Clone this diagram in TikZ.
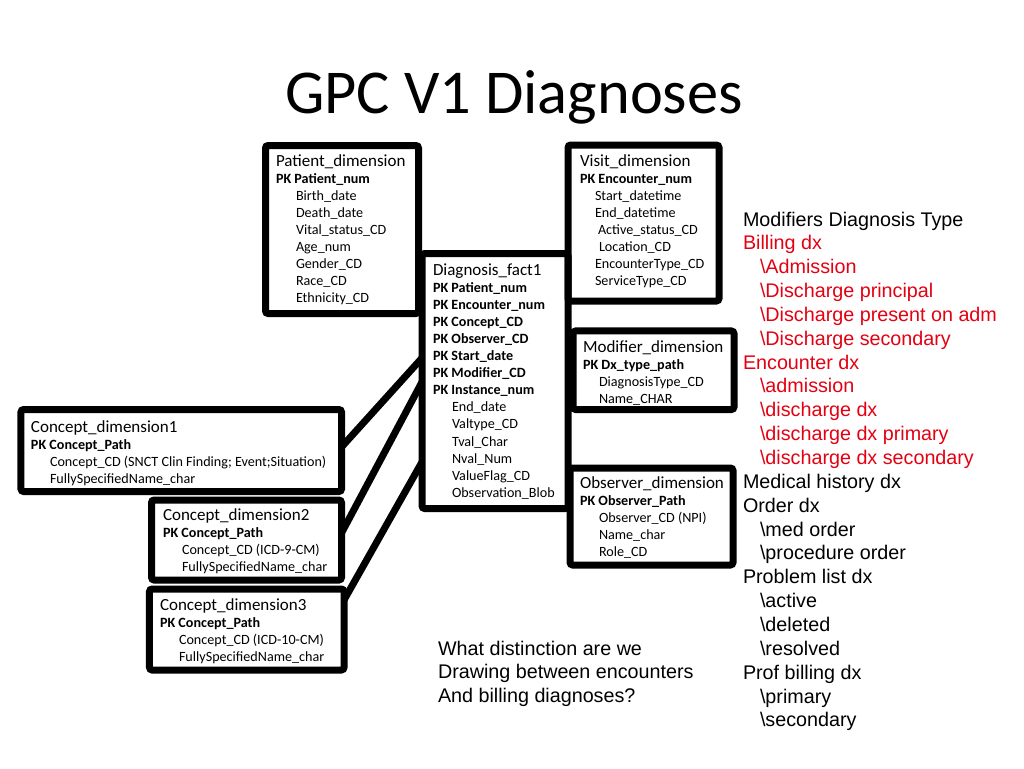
\documentclass[tikz,border=0pt]{standalone}
\usepackage{fontspec}
\setmainfont{Carlito}
\newfontfamily\arialf{Liberation Sans}
\definecolor{dxred}{RGB}{228,0,18}
\newcommand\ttlf{\fontsize{12.75}{15}\selectfont}
\newcommand\pkf{\fontsize{10.6}{12.5}\selectfont\bfseries}
\newcommand\fldf{\fontsize{10.6}{12.5}\selectfont}
\tikzset{
  box/.style={draw, line width=5.25pt, rounded corners=2pt, inner sep=0pt, outer sep=0pt},
  conn/.style={line width=5.25pt},
  rowtxt/.style={anchor=base west, inner sep=0pt, outer sep=0pt},
  listtxt/.style={anchor=base west, inner sep=0pt, outer sep=0pt, font=\arialf\fontsize{14.8}{17.8}\selectfont},
}
\newcommand\mkTable[5]{%
  \def\fieldind{#3}%
  \foreach \dx/\fnt/\txt [count=\idx from 0] in {#5}{%
    \node[rowtxt, font=\fnt, xshift={\dx*\fieldind*0.75pt}] (#1\idx) at ({#2},{#4+17.1*\idx}) {\txt};
  }%
}
\begin{document}
\begin{tikzpicture}[x=0.75pt, y=-0.75pt]
\useasboundingbox (0,0) rectangle (1024,768);
\fill[white] (0,0) rectangle (1024,768);

\node[anchor=base, inner sep=0pt, font=\fontsize{46.8}{56}\selectfont] (title) at (514,113) {GPC V1 Diagnoses};

% boxes
\node[box, minimum width=114.75pt, minimum height=126pt] (pat) at (342,229.5) {};
\node[box, minimum width=109.5pt, minimum height=191.25pt] (diag) at (495,381) {};
\node[box, minimum width=113.25pt, minimum height=117pt] (visit) at (643.5,223) {};
\node[box, minimum width=120.75pt, minimum height=58.9pt] (mod) at (653.5,370.25) {};
\node[box, minimum width=122.25pt, minimum height=72.75pt] (obs) at (651.5,516.5) {};
\node[box, minimum width=240.4pt, minimum height=61.5pt] (cA) at (181.25,450.5) {};
\node[box, minimum width=142.5pt, minimum height=60pt] (cB) at (246.5,540) {};
\node[box, minimum width=145.9pt, minimum height=60.75pt] (cC) at (246.75,629.5) {};

% connectors
\draw[conn] ([yshift=2.6pt]cA.east) -- ([yshift=17.25pt]diag.west);
\draw[conn] ([yshift=5.25pt]cB.east) -- ([yshift=-0.75pt]diag.west);
\draw[conn] ([yshift=-8.25pt]cC.north east) -- ([yshift=-60.75pt]diag.west);

% table texts
\mkTable{patT}{276}{20}{166}{0/\ttlf/Patient\_dimension, 0/\pkf/PK Patient\_num, 1/\fldf/Birth\_date, 1/\fldf/Death\_date, 1/\fldf/Vital\_status\_CD, 1/\fldf/Age\_num, 1/\fldf/Gender\_CD, 1/\fldf/Race\_CD, 1/\fldf/Ethnicity\_CD}
\mkTable{diagT}{433}{19}{275}{0/\ttlf/Diagnosis\_fact1, 0/\pkf/PK Patient\_num, 0/\pkf/PK Encounter\_num, 0/\pkf/PK Concept\_CD, 0/\pkf/PK Observer\_CD, 0/\pkf/PK Start\_date, 0/\pkf/PK Modifier\_CD, 0/\pkf/PK Instance\_num, 1/\fldf/End\_date, 1/\fldf/Valtype\_CD, 1/\fldf/Tval\_Char, 1/\fldf/Nval\_Num, 1/\fldf/ValueFlag\_CD, 1/\fldf/Observation\_Blob}
\mkTable{visitT}{580}{15}{166}{0/\ttlf/Visit\_dimension, 0/\pkf/PK Encounter\_num, 1/\fldf/Start\_datetime, 1/\fldf/End\_datetime, 1.2/\fldf/Active\_status\_CD, 1.27/\fldf/Location\_CD, 1/\fldf/EncounterType\_CD, 1/\fldf/ServiceType\_CD}
\mkTable{modT}{583}{16}{352}{0/\ttlf/Modifier\_dimension, 0/\pkf/PK Dx\_type\_path, 1/\fldf/DiagnosisType\_CD, 1/\fldf/Name\_CHAR}
\mkTable{obsT}{580}{19}{488}{0/\ttlf/Observer\_dimension, 0/\pkf/PK Observer\_Path, 1/\fldf/Observer\_CD (NPI), 1/\fldf/Name\_char, 1/\fldf/Role\_CD}
\mkTable{cAT}{31}{19}{432}{0/\ttlf/Concept\_dimension1, 0/\pkf/PK Concept\_Path, 1/\fldf/Concept\_CD (SNCT Clin Finding; Event;Situation), 1/\fldf/FullySpecifiedName\_char}
\mkTable{cBT}{163}{19}{520}{0/\ttlf/Concept\_dimension2, 0/\pkf/PK Concept\_Path, 1/\fldf/Concept\_CD (ICD-9-CM), 1/\fldf/FullySpecifiedName\_char}
\mkTable{cCT}{160}{19}{610}{0/\ttlf/Concept\_dimension3, 0/\pkf/PK Concept\_Path, 1/\fldf/Concept\_CD (ICD-10-CM), 1/\fldf/FullySpecifiedName\_char}

% right list
\foreach \col/\lind/\txt [count=\idx from 0] in {black/0/Modifiers Diagnosis Type, dxred/0/Billing dx, dxred/1/\textbackslash Admission, dxred/1/\textbackslash Discharge principal, dxred/1/\textbackslash Discharge present on adm, dxred/1/\textbackslash Discharge secondary, dxred/0/Encounter dx, dxred/1/\textbackslash admission, dxred/1/\textbackslash discharge dx, dxred/1/\textbackslash discharge dx primary, dxred/1/\textbackslash discharge dx secondary, black/0/Medical history dx, black/0/Order dx, black/1/\textbackslash med order, black/1/\textbackslash procedure order, black/0/Problem list dx, black/1/\textbackslash active, black/1/\textbackslash deleted, black/1/\textbackslash resolved, black/0/Prof billing dx, black/1/\textbackslash primary, black/1/\textbackslash secondary}
  \node[listtxt, text=\col] (L\idx) at ({743+17*\lind},{226+23.85*\idx}) {\txt};

% question
\node[listtxt] (q0) at (438,655) {What distinction are we};
\node[listtxt] (q1) at (438,678.5) {Drawing between encounters};
\node[listtxt] (q2) at (438,702) {And billing diagnoses?};
\end{tikzpicture}
\end{document}
